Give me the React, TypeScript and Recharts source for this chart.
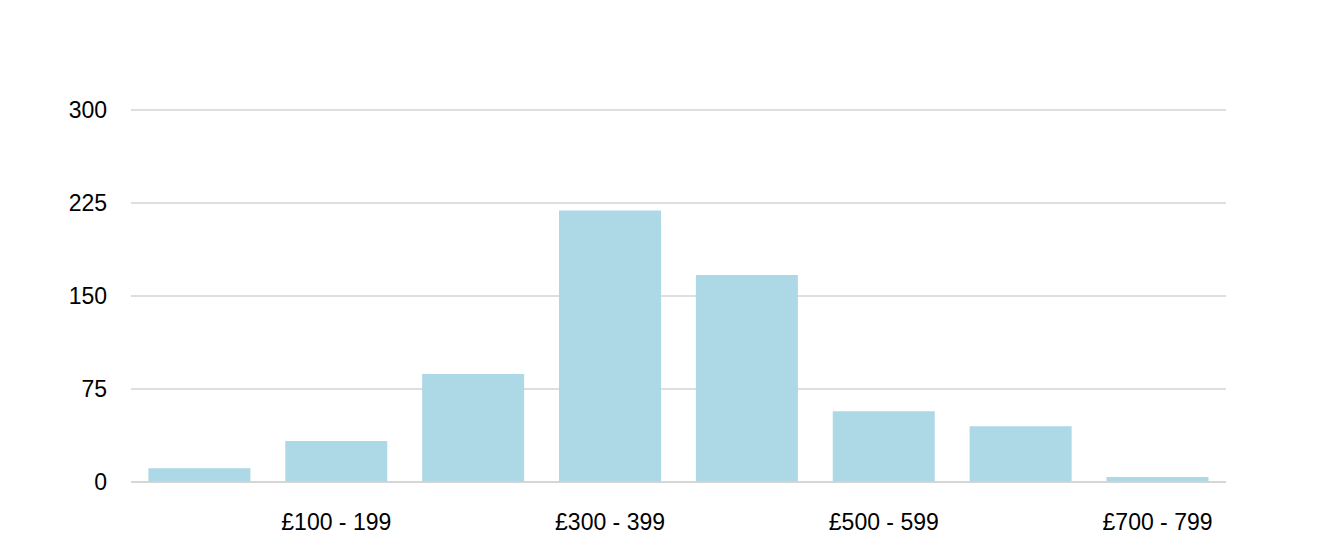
import React from "react";
import { BarChart, Bar, XAxis, YAxis, CartesianGrid } from "recharts";

const categories = ["£0 - 99", "£100 - 199", "£200 - 299", "£300 - 399", "£400 - 499", "£500 - 599", "£600 - 699", "£700 - 799"];
const counts = [11, 33, 87, 219, 167, 57, 45, 4];
const yTicks = [0, 75, 150, 225, 300];

const data = categories.map((c, i) => ({ name: c, value: counts[i] }));

const font = "'Liberation Sans', Arial, Helvetica, sans-serif";

export default function App() {
  return (
    <div style={{ position: "absolute", left: 0, top: 0, background: "#fff" }}>
      <BarChart
        width={1318}
        height={558}
        data={data}
        margin={{ top: 110, right: 92, bottom: 16, left: 1 }}
        barCategoryGap="12.7%"
      >
        <CartesianGrid vertical={false} stroke="#d3d3d3" strokeWidth={1.5} />
        <XAxis
          dataKey="name"
          height={60}
          interval={0}
          tickLine={false}
          axisLine={{ stroke: "#d3d3d3", strokeWidth: 1.5 }}
          tickMargin={26}
          tickFormatter={(v: string, i: number) => (i % 2 === 1 ? v : "")}
          tick={{ fill: "#000", fontSize: 23, fontFamily: font }}
        />
        <YAxis
          width={130}
          domain={[0, 300]}
          ticks={yTicks}
          interval={0}
          tickLine={false}
          axisLine={false}
          tickMargin={18}
          tick={{ fill: "#000", fontSize: 23, fontFamily: font }}
        />
        <Bar dataKey="value" fill="#add8e6" isAnimationActive={false} />
      </BarChart>
    </div>
  );
}
